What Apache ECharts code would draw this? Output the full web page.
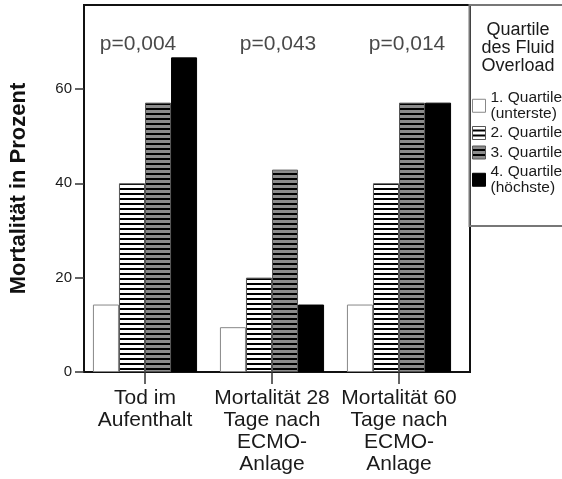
<!DOCTYPE html>
<html>
<head>
<meta charset="utf-8">
<script src="https://cdn.jsdelivr.net/npm/echarts@6/dist/echarts.min.js"></script>
<style>
html,body{margin:0;padding:0;background:#fff;}
#chart{width:562px;height:479px;}
</style>
</head>
<body>
<div id="chart"></div>
<script>
// ---- data ----
const categories = ['Tod im\nAufenthalt', 'Mortalität 28\nTage nach\nECMO-\nAnlage', 'Mortalität 60\nTage nach\nECMO-\nAnlage'];
const seriesNames = ['1. Quartile\n(unterste)', '2. Quartile', '3. Quartile', '4. Quartile\n(höchste)'];
const q1 = [14.3, 9.5, 14.3];
const q2 = [40.0, 20.0, 40.0];
const q3 = [57.1, 42.9, 57.1];
const q4 = [66.7, 14.3, 57.1];
const pValues = ['p=0,004', 'p=0,043', 'p=0,014'];
const yTicks = [0, 20, 40, 60];
const legendTitle = 'Quartile\ndes Fluid\nOverload';
const yTitle = 'Mortalität in Prozent';

// ---- styling ----
const FONT = "'Liberation Sans', Arial, sans-serif";
const yMax = 77.8;
const pLabelY = 69.4;
const pLabelDx = [-7, 6, 8];

function stripes(bg, fg) {
  const c = document.createElement('canvas');
  c.width = 4; c.height = 5;
  const ctx = c.getContext('2d');
  ctx.fillStyle = bg; ctx.fillRect(0, 0, 4, 5);
  ctx.fillStyle = fg; ctx.fillRect(0, 3, 4, 2);
  return { image: c, repeat: 'repeat' };
}

const barStyles = [
  { color: '#ffffff', borderColor: '#888888', borderWidth: 1 },
  { color: stripes('#ffffff', '#000000'), borderColor: '#555555', borderWidth: 1 },
  { color: stripes('#8c8c8c', '#000000'), borderColor: '#555555', borderWidth: 1 },
  { color: '#000000', borderColor: '#000000', borderWidth: 1 }
];
const values = [q1, q2, q3, q4];

const chart = echarts.init(document.getElementById('chart'), null, { renderer: 'canvas' });

const barSeries = values.map((v, i) => ({
  name: seriesNames[i],
  type: 'bar',
  xAxisIndex: 1,
  yAxisIndex: 1,
  data: v,
  barGap: '0%',
  barCategoryGap: '18%',
  itemStyle: barStyles[i],
  emphasis: { disabled: true },
  animation: false
}));

const pSeries = {
  type: 'scatter',
  xAxisIndex: 1,
  yAxisIndex: 1,
  symbolSize: 0,
  silent: true,
  animation: false,
  data: pValues.map((p, i) => ({
    value: [i, pLabelY],
    label: { offset: [pLabelDx[i], 0] }
  })),
  label: {
    show: true,
    position: 'inside',
    formatter: (prm) => pValues[prm.dataIndex],
    fontFamily: FONT,
    fontSize: 21,
    color: '#1a1a1a'
  }
};

const option = {
  backgroundColor: '#ffffff',
  animation: false,
  grid: [
    { left: 75, top: 5, width: 395, height: 367, show: true, borderColor: '#111', borderWidth: 2, backgroundColor: 'transparent' },
    { left: 81.5, top: 5, width: 381, height: 367, show: false }
  ],
  xAxis: [
    { type: 'value', gridIndex: 0, show: false, min: 0, max: 1 },
    {
      type: 'category', gridIndex: 1, data: categories,
      axisLine: { show: false },
      axisTick: { show: true, alignWithLabel: true, length: 12, lineStyle: { color: '#333', width: 1.5 } },
      axisLabel: { interval: 0, margin: 15, fontFamily: FONT, fontSize: 21, lineHeight: 22, color: '#1a1a1a' }
    }
  ],
  yAxis: [
    {
      type: 'value', gridIndex: 0, min: 0, max: yMax,
      name: yTitle, nameLocation: 'middle', nameGap: 54,
      nameTextStyle: { fontFamily: FONT, fontSize: 22, fontWeight: 'bold', color: '#111' },
      axisLine: { show: false },
      axisTick: { show: true, length: 9, customValues: yTicks, lineStyle: { color: '#333', width: 1.5 } },
      axisLabel: { customValues: yTicks, margin: 12, fontFamily: FONT, fontSize: 15, color: '#1a1a1a' },
      splitLine: { show: false }
    },
    { type: 'value', gridIndex: 1, min: 0, max: yMax, show: false, splitLine: { show: false } }
  ],
  legend: {
    orient: 'vertical',
    left: 472,
    top: 90,
    padding: 0,
    itemGap: 3.5,
    itemWidth: 13,
    itemHeight: 13,
    itemTextGap: 4,
    icon: 'rect',
    selectedMode: false,
    data: seriesNames,
    textStyle: { fontFamily: FONT, fontSize: 15.5, lineHeight: 15.5, color: '#1a1a1a' },
    itemStyle: { borderWidth: 1 }
  },
  graphic: [
    {
      type: 'rect',
      shape: { x: 469.5, y: 5, width: 100, height: 221 },
      style: { fill: 'none', stroke: '#777', lineWidth: 2 },
      z: 10
    },
    {
      type: 'text',
      x: 518, y: 21,
      style: { text: legendTitle, align: 'center', verticalAlign: 'top', font: '18px ' + FONT, lineHeight: 18, fill: '#1a1a1a' },
      z: 10
    }
  ],
  series: barSeries.concat([pSeries])
};

chart.setOption(option);
</script>
</body>
</html>
